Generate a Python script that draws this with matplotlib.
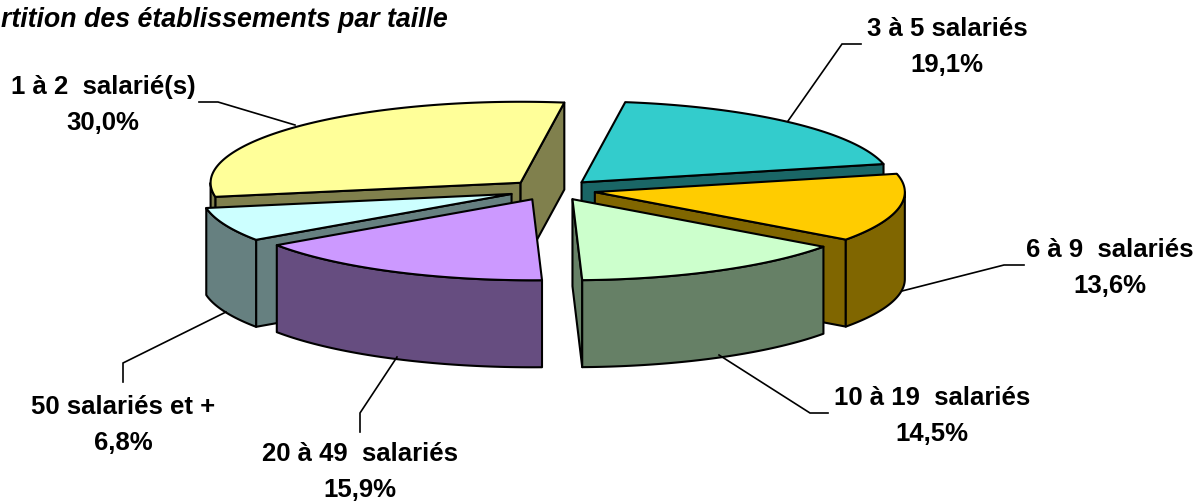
import numpy as np
import matplotlib
matplotlib.use('Agg')
import matplotlib.pyplot as plt
from matplotlib.patches import Polygon

categories = ['1 à 2  salarié(s)', '3 à 5 salariés', '6 à 9  salariés',
              '10 à 19  salariés', '20 à 49  salariés', '50 salariés et +']
values = [30.0, 19.1, 13.6, 14.5, 15.9, 6.8]
top_colors = ['#FFFF99', '#33CCCC', '#FFCC00', '#CCFFCC', '#CC99FF', '#CCFFFF']
side_colors = ['#80804D', '#1A6666', '#806600', '#668066', '#664D80', '#668080']
title = 'rtition des établissements par taille'

# pie geometry, in pixels
cx, cy = 552, 190
rx, ry = 310, 81
depth = 87
explode_x, explode_y = 43.7, 10.4
start_angle = 260  # clockwise from the top

# label centres and leader lines, in pixels
label_pos = [(103, 105), (947, 47), (1110, 268), (932, 416), (360, 472), (123, 425)]
leaders = [
    [(199, 102), (218, 102), (295, 125)],
    [(861, 44), (842, 44), (788, 121)],
    [(1024, 265), (1004, 265), (902, 291)],
    [(828, 413), (810, 413), (719, 355)],
    [(360, 432), (360, 413), (397, 357)],
    [(123, 382), (123, 363), (226, 312)],
]

plt.rcParams['font.family'] = ['Liberation Sans', 'DejaVu Sans']

fig = plt.figure(figsize=(11.98, 5.01), dpi=100)
ax = fig.add_axes([0, 0, 1, 1])
ax.set_xlim(0, 1198)
ax.set_ylim(501, 0)
ax.axis('off')


def rim(x0, y0, angles):
    t = np.radians(angles)
    return np.column_stack([x0 + rx * np.sin(t), y0 - ry * np.cos(t)])


def draw_face(points, color, z):
    ax.add_patch(Polygon(points, closed=True, facecolor=color, edgecolor='black',
                         linewidth=1.5, joinstyle='round', zorder=z))


# angles of every slice, from its share of the total
sweeps = np.array(values) / sum(values) * 360
starts = start_angle + np.concatenate([[0], np.cumsum(sweeps)[:-1]])
ends = starts + sweeps
mids = (starts + ends) / 2

# back slices first
order = np.argsort(-np.cos(np.radians(mids)))
z = 1
for i in order:
    a, b = starts[i], ends[i]
    x0 = cx + explode_x * np.sin(np.radians(mids[i]))
    y0 = cy - explode_y * np.cos(np.radians(mids[i]))
    apex = np.array([x0, y0])
    down = np.array([0, depth])

    # flat cut faces, only those turned towards the viewer
    if np.sin(np.radians(a)) < 0:
        p = rim(x0, y0, [a])[0]
        draw_face([apex, p, p + down, apex + down], side_colors[i], z)
        z += 1
    if np.sin(np.radians(b)) > 0:
        p = rim(x0, y0, [b])[0]
        draw_face([apex, p, p + down, apex + down], side_colors[i], z)
        z += 1

    # outer wall, the part between 90 and 270 degrees
    lo, hi = max(a, 90), min(b, 270)
    if a >= 360:
        lo, hi = max(a - 360, 90), min(b - 360, 270)
    if hi > lo:
        arc = rim(x0, y0, np.linspace(lo, hi, 60))
        draw_face(np.vstack([arc, arc[::-1] + down]), side_colors[i], z)
        z += 1

    # top of the slice
    arc = rim(x0, y0, np.linspace(a, b, 120))
    draw_face(np.vstack([apex, arc]), top_colors[i], z)
    z += 1

# leader lines
for pts in leaders:
    xs, ys = zip(*pts)
    ax.plot(xs, ys, color='black', linewidth=1.2, zorder=z, solid_joinstyle='miter')

# labels
for name, val, (x, y) in zip(categories, values, label_pos):
    txt = name + '\n' + f'{val:.1f}'.replace('.', ',') + '%'
    ax.text(x, y, txt, ha='center', va='center', fontsize=18.5, fontweight='bold',
            linespacing=1.58, color='black', zorder=z + 1)

ax.text(448, 20, title, ha='right', va='center',
        fontsize=19.3, fontweight='bold', fontstyle='italic', color='black', zorder=z + 1)

fig.savefig('out.png', dpi=100, facecolor='white')
